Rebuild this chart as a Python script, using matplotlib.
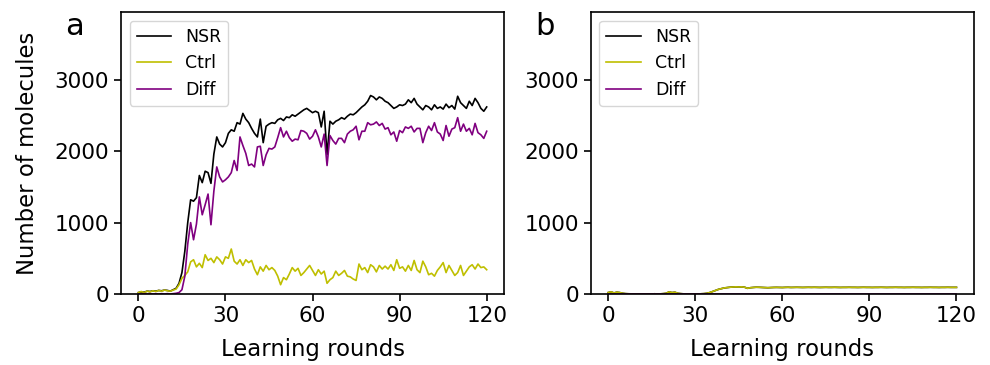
import numpy as np
import matplotlib
matplotlib.use("Agg")
import matplotlib.pyplot as plt

rounds = np.arange(121)

# panel a: molecules collected per learning round
nsr_a = [20, 30, 25, 40, 35, 45, 40, 50, 45, 55, 50, 40, 60, 80, 150,
         300, 600, 1000, 1320, 1300, 1350, 1660, 1560, 1720, 1700, 1550,
         1960, 2200, 2100, 2060, 2120, 2250, 2300, 2280, 2400, 2380, 2530,
         2450, 2400, 2320, 2250, 2200, 2450, 2120, 2350, 2380, 2400, 2390,
         2440, 2460, 2430, 2480, 2470, 2510, 2490, 2520, 2550, 2580, 2600,
         2570, 2540, 2560, 2540, 2340, 2560, 1950, 2420, 2380, 2420, 2440,
         2470, 2450, 2490, 2520, 2510, 2540, 2580, 2620, 2650, 2700, 2780,
         2760, 2720, 2760, 2740, 2700, 2680, 2640, 2600, 2620, 2650, 2640,
         2660, 2720, 2680, 2740, 2660, 2620, 2580, 2640, 2620, 2580, 2650,
         2600, 2620, 2590, 2660, 2610, 2640, 2590, 2770, 2680, 2640, 2600,
         2700, 2640, 2740, 2680, 2600, 2560, 2620]
ctrl_a = [20, 35, 20, 40, 30, 45, 35, 50, 40, 55, 45, 40, 55, 70, 130,
          220, 260, 310, 450, 480, 380, 430, 370, 550, 470, 500, 440, 520,
          480, 420, 520, 500, 630, 460, 420, 480, 400, 480, 440, 470, 350,
          270, 380, 320, 400, 340, 370, 330, 250, 130, 230, 200, 280, 370,
          320, 360, 260, 300, 350, 400, 330, 260, 340, 280, 320, 150, 200,
          230, 320, 260, 290, 330, 250, 240, 210, 190, 420, 340, 370, 300,
          410, 380, 310, 400, 350, 390, 350, 410, 330, 480, 360, 380, 320,
          400, 330, 470, 340, 300, 460, 380, 270, 290, 250, 330, 380, 440,
          300, 400, 330, 260, 300, 400, 260, 320, 380, 410, 350, 420, 370,
          380, 340]
diff_a = [0, 0, 5, 0, 5, 0, 5, 0, 5, 0, 5, 0, 5, 10, 20,
          60, 250, 700, 1000, 760, 980, 1360, 1110, 1250, 1400, 970, 1440,
          1780, 1640, 1570, 1600, 1640, 1700, 1870, 1730, 2200, 2080, 1970,
          1800, 1820, 1780, 2060, 2070, 1800, 1950, 2040, 2030, 2060, 2190,
          2330, 2200, 2280, 2190, 2140, 2170, 2160, 2290, 2280, 2250, 2170,
          2210, 2300, 2200, 2060, 2240, 1800, 2220, 2150, 2100, 2180, 2180,
          2120, 2240, 2280, 2300, 2350, 2160, 2280, 2280, 2400, 2370, 2380,
          2410, 2360, 2390, 2310, 2330, 2230, 2270, 2140, 2290, 2260, 2340,
          2320, 2350, 2270, 2320, 2320, 2120, 2260, 2350, 2290, 2400, 2270,
          2240, 2150, 2360, 2210, 2310, 2330, 2470, 2280, 2380, 2280, 2320,
          2230, 2390, 2260, 2230, 2180, 2280]

# panel b: NSR and Ctrl coincide, Diff stays at zero
nsr_b = [20, 30, 15, 25, 20, 10, 5, 3, 2, 0, 2, 0, 0, 2, 0, 0, 3, 0, 2,
         5, 10, 30, 20, 25, 10, 5, 2, 0, 0, 2, 0, 0, 3, 5, 10, 20, 35, 50,
         65, 75, 85, 90, 95, 98, 100, 98, 100, 95, 80, 88, 92, 95, 94, 92,
         90, 88, 90, 92, 93, 92, 91, 93, 94, 92, 93, 94, 93, 92, 93, 94, 93,
         94, 93, 92, 93, 94, 93, 93, 94, 93, 92, 93, 93, 94, 93, 93, 92, 93,
         94, 93, 93, 92, 93, 93, 94, 93, 92, 93, 93, 94, 93, 93, 92, 93, 93,
         94, 93, 93, 92, 93, 93, 94, 93, 93, 92, 93, 93, 94, 93, 93, 93]
ctrl_b = list(nsr_b)
diff_b = [0] * 121

xticks = [0, 30, 60, 90, 120]
yticks = [0, 1000, 2000, 3000]

plt.rcParams['font.family'] = ['DejaVu Sans']
fig = plt.figure(figsize=(9.9, 3.65), dpi=100)
ax_a = fig.add_axes([0.1222, 0.1945, 0.387, 0.7726])
ax_b = fig.add_axes([0.5967, 0.1945, 0.387, 0.7726])

panels = [(ax_a, nsr_a, ctrl_a, diff_a), (ax_b, nsr_b, ctrl_b, diff_b)]
for ax, nsr, ctrl, diff in panels:
    ax.plot(rounds, nsr, color='black', lw=1.2, label='NSR')
    ax.plot(rounds, ctrl, color='y', lw=1.2, label='Ctrl')
    ax.plot(rounds, diff, color='purple', lw=1.2, label='Diff')
    ax.set_xlim(-6, 126)
    ax.set_ylim(0, 3950)
    ax.set_xticks(xticks)
    ax.set_yticks(yticks)
    ax.tick_params(labelsize=15.5, width=1.2, length=5)
    for s in ax.spines.values():
        s.set_linewidth(1.2)
    ax.set_xlabel('Learning rounds', fontsize=16.4, labelpad=9)
    ax.legend(loc='upper left', fontsize=12.5)

ax_a.set_ylabel('Number of molecules', fontsize=16.4, labelpad=11)
fig.text(0.075, 0.905, 'a', fontsize=22, ha='center', va='baseline')
fig.text(0.5505, 0.905, 'b', fontsize=22, ha='center', va='baseline')

fig.savefig('out.png', dpi=100)
